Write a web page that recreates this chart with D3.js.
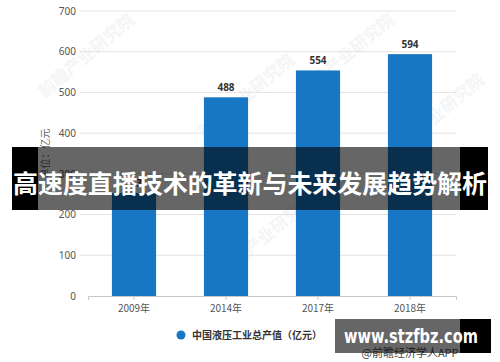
<html>
<head>
<meta charset="utf-8">
<title>中国液压工业总产值</title>
<script src="https://d3js.org/d3.v7.min.js"></script>
<style>
  body {margin: 0; background: #fff;}
  text {font-family: "Noto Sans CJK SC", "Noto Sans", sans-serif;}
</style>
</head>
<body>
<svg width="500" height="362"></svg>
<script>
// data
var years = ["2009年", "2014年", "2017年", "2018年"];
var output = [253, 488, 554, 594];
var yTicks = [0, 100, 200, 300, 400, 500, 600, 700];
var seriesName = "中国液压工业总产值（亿元）";
var unitLabel = "单位：亿元";
var bannerTitle = "高速度直播技术的革新与未来发展趋势解析";
var siteMark = "www.stzfbz.com";
var sourceMark = "@前瞻经济学人APP";

var svg = d3.select("svg");
svg.append("rect").attr("width", 500).attr("height", 362).attr("fill", "#fff");

var x = d3.scaleBand().domain(years).range([88, 456]).paddingInner(0.52).paddingOuter(0.26);
var y = d3.scaleLinear().domain([0, 700]).range([296, 11]);

// faint watermarks
var wm = [[90, 60], [250, 100], [350, 60], [440, 120], [270, 240]];
svg.append("g").selectAll("text").data(wm).enter().append("text")
  .attr("transform", function(d) { return "translate(" + d[0] + "," + d[1] + ") rotate(-40)"; })
  .attr("text-anchor", "middle")
  .attr("font-size", 17)
  .attr("font-weight", "bold")
  .attr("fill", "#f3f5f7")
  .text("前瞻产业研究院");

// gridlines
svg.append("g").selectAll("line").data(yTicks.slice(1)).enter().append("line")
  .attr("x1", 80).attr("x2", 456)
  .attr("y1", function(d) { return y(d); }).attr("y2", function(d) { return y(d); })
  .attr("stroke", "#e3e3e3").attr("stroke-width", 1);

// y axis labels
var yAxis = svg.append("g").attr("transform", "translate(80,0)")
  .call(d3.axisLeft(y).tickValues(yTicks).tickSize(0).tickPadding(4));
yAxis.select(".domain").remove();
yAxis.selectAll("text").attr("font-size", 10).attr("fill", "#555")
  .style("font-family", "'Noto Sans', sans-serif");

svg.append("text")
  .attr("transform", "translate(45," + ((y(0) + y(700)) / 2) + ") rotate(-90)")
  .attr("text-anchor", "middle").attr("dy", "0.35em")
  .attr("font-size", 10).attr("fill", "#666")
  .text(unitLabel);

// bars
svg.append("g").selectAll("rect").data(output).enter().append("rect")
  .attr("x", function(d, i) { return x(years[i]); })
  .attr("y", function(d) { return y(d); })
  .attr("width", x.bandwidth())
  .attr("height", function(d) { return y(0) - y(d); })
  .attr("fill", "#1777c4");

svg.append("g").selectAll("text").data(output).enter().append("text")
  .attr("x", function(d, i) { return x(years[i]) + x.bandwidth() / 2; })
  .attr("y", function(d) { return y(d) - 6; })
  .attr("text-anchor", "middle")
  .attr("font-size", 10).attr("font-weight", "bold").attr("fill", "#333")
  .style("font-family", "'Noto Sans', sans-serif")
  .text(function(d) { return d; });

// x axis
var xAxis = svg.append("g").attr("transform", "translate(0," + y(0) + ")")
  .call(d3.axisBottom(x).tickSize(4).tickPadding(5));
xAxis.select(".domain").attr("stroke", "#c8c8c8");
xAxis.selectAll(".tick line").attr("stroke", "#c8c8c8");
xAxis.selectAll("text").attr("font-size", 10).attr("fill", "#555");

// legend
svg.append("circle").attr("cx", 181).attr("cy", 335).attr("r", 4.5).attr("fill", "#1777c4");
svg.append("text").attr("x", 192).attr("y", 335).attr("dy", "0.35em")
  .attr("font-size", 10).attr("font-weight", "bold").attr("fill", "#333")
  .text(seriesName);

// banner overlay
svg.append("rect").attr("x", 12).attr("y", 147).attr("width", 26).attr("height", 63).attr("fill", "#000");
svg.append("rect").attr("x", 460).attr("y", 147).attr("width", 28).attr("height", 63).attr("fill", "#000");
svg.append("rect").attr("x", 38).attr("y", 147).attr("width", 422).attr("height", 63).attr("fill", "rgba(0,0,0,0.6)");
svg.append("text").attr("x", 250).attr("y", 184).attr("dy", "0.35em")
  .attr("text-anchor", "middle")
  .attr("font-size", 25).attr("font-weight", "bold").attr("fill", "#fff")
  .attr("textLength", 474).attr("lengthAdjust", "spacingAndGlyphs")
  .text(bannerTitle);

// site mark bottom right
svg.append("text").attr("x", 410).attr("y", 353).attr("dy", "0.35em")
  .attr("text-anchor", "middle")
  .attr("font-size", 11).attr("fill", "#444")
  .text(sourceMark);
svg.append("rect").attr("x", 335).attr("y", 319).attr("width", 125).attr("height", 34).attr("fill", "rgba(0,0,0,0.6)");
svg.append("rect").attr("x", 460).attr("y", 319).attr("width", 31).attr("height", 34).attr("fill", "#000");
svg.append("text").attr("x", 411).attr("y", 336).attr("dy", "0.35em")
  .attr("text-anchor", "middle")
  .attr("font-size", 19).attr("font-weight", "bold").attr("fill", "#fff")
  .style("font-family", "'DejaVu Sans', sans-serif")
  .attr("textLength", 134).attr("lengthAdjust", "spacingAndGlyphs")
  .text(siteMark);
</script>
</body>
</html>
